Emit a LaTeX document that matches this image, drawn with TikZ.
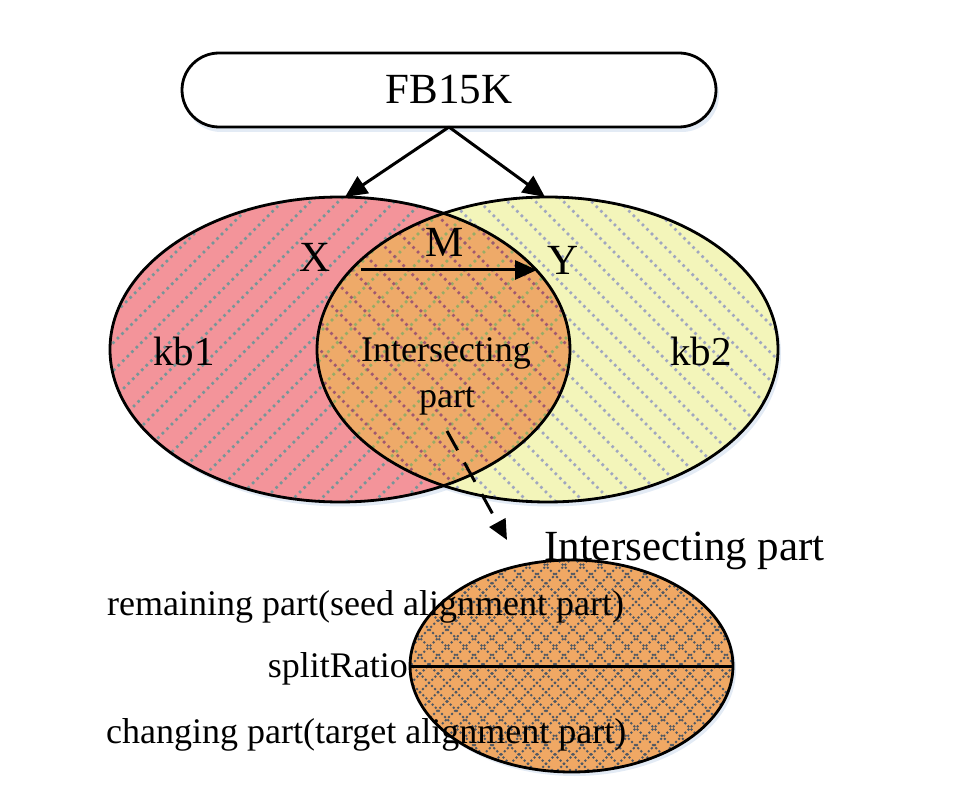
\documentclass[tikz,border=0pt]{standalone}
\usepackage{fontspec}
\setmainfont{Liberation Serif}
\usetikzlibrary{arrows.meta}
\definecolor{pinkfill}{RGB}{243,148,154}
\definecolor{pinkhatch}{RGB}{118,150,152}
\definecolor{yellowfill}{RGB}{243,245,186}
\definecolor{yellowhatch}{RGB}{160,166,192}
\definecolor{orangefill}{RGB}{238,170,105}
\definecolor{greenhatch}{RGB}{150,172,102}
\definecolor{purplehatch}{RGB}{160,88,112}
\definecolor{bottomfill}{RGB}{240,168,100}
\definecolor{bottomhatch}{RGB}{78,88,100}
\definecolor{shadowc}{RGB}{200,215,235}
\tikzset{
  hatchline/.style={line width=2.6pt, dash pattern=on 2.6pt off 3.8pt},
  finehatch/.style={line width=2pt, dash pattern=on 2pt off 2.4pt},
  outline/.style={draw=black, line width=2.8pt},
  bigtxt/.style={inner sep=0pt, font=\fontsize{43}{48}\selectfont},
  midtxt/.style={inner sep=0pt, font=\fontsize{36}{40}\selectfont},
  arr/.style={line width=3pt, -{Triangle[length=22pt,width=20pt]}},
  darr/.style={line width=3pt, dash pattern=on 22pt off 14pt, -{Triangle[length=20pt,width=18pt]}},
}
\begin{document}
\begin{tikzpicture}[x=1pt,y=1pt]
\useasboundingbox (0,0) rectangle (962,-805);
\def\kbone{(340,-349.5) ellipse [x radius=230, y radius=152.5]}
\def\kbtwo{(547.5,-349.5) ellipse [x radius=230.5, y radius=152.5]}
\def\bot{(571.5,-666) ellipse [x radius=161.5, y radius=106]}
% shadows
\fill[shadowc, opacity=0.5, rounded corners=37pt] (184,-58) rectangle (719,-132);
\fill[shadowc, opacity=0.5] (343,-354) ellipse [x radius=230, y radius=152.5];
\fill[shadowc, opacity=0.5] (550.5,-354) ellipse [x radius=230.5, y radius=152.5];
\fill[shadowc, opacity=0.5] (574.5,-670) ellipse [x radius=161.5, y radius=106];
% FB15K box
\node[draw=black, line width=2.8pt, fill=white, rounded corners=37pt, minimum width=534pt, minimum height=74pt, inner sep=0pt] (fb) at (449,-90) {};
\node[bigtxt, anchor=base] (fbt) at (449,-104) {FB15K};
% kb1
\fill[pinkfill] \kbone;
\begin{scope}
  \clip \kbone;
  \foreach \c in {-20,8,...,1380} \draw[hatchline, pinkhatch] (\c-520,-520) -- (\c-180,-180);
\end{scope}
% kb2
\fill[yellowfill] \kbtwo;
\begin{scope}
  \clip \kbtwo;
  \foreach \c in {-450,-422,...,660} \draw[hatchline, yellowhatch] (\c+520,-520) -- (\c+180,-180);
\end{scope}
% intersection
\begin{scope}
  \clip \kbone;
  \clip \kbtwo;
  \fill[orangefill] (300,-190) rectangle (600,-510);
  \foreach \c in {-20,8,...,1380} \draw[hatchline, greenhatch] (\c-520,-520) -- (\c-180,-180);
  \foreach \c in {-450,-422,...,660} \draw[hatchline, purplehatch] (\c+520,-520) -- (\c+180,-180);
\end{scope}
\draw[outline] \kbone;
\draw[outline] \kbtwo;
% bottom ellipse
\fill[bottomfill] \bot;
\begin{scope}
  \clip \bot;
  \foreach \c in {950,968,...,1520} \draw[finehatch, bottomhatch] (\c-780,-780) -- (\c-550,-550);
  \foreach \c in {-380,-362,...,190} \draw[finehatch, bottomhatch] (\c+780,-780) -- (\c+550,-550);
\end{scope}
\draw[outline] \bot;
\coordinate (sl) at (410,-666);
\coordinate (sr) at (733,-666);
\draw[line width=3pt] (sl) -- (sr);
% arrows
\coordinate (fbs) at (449,-127);
\coordinate (t1) at (345,-197);
\coordinate (t2) at (545,-197);
\draw[arr] (fbs) -- (t1);
\draw[arr] (fbs) -- (t2);
\coordinate (m1) at (361,-270);
\coordinate (m2) at (537,-270);
\draw[arr, -{Triangle[length=22pt,width=19pt]}] (m1) -- (m2);
\coordinate (d1) at (447,-431);
\coordinate (d2) at (507,-540);
\draw[darr] (d1) -- (d2);
% labels
\node[bigtxt, anchor=base] (lx) at (315,-272) {X};
\node[bigtxt, anchor=base] (lm) at (445,-257) {M};
\node[bigtxt, anchor=base] (ly) at (563,-275) {Y};
\node[bigtxt, anchor=base, font=\fontsize{41}{46}\selectfont] (k1) at (184,-365) {kb1};
\node[bigtxt, anchor=base, font=\fontsize{41}{46}\selectfont] (k2) at (701,-365) {kb2};
\node[midtxt, anchor=base] (ia) at (446,-362) {Intersecting};
\node[midtxt, anchor=base] (ib) at (447,-407) {part};
\node[bigtxt, anchor=base] (ip) at (684.5,-560) {Intersecting part};
\node[midtxt, anchor=base west] (rp) at (107,-615) {remaining part(seed alignment part)};
\node[midtxt, anchor=base east] (sp) at (408,-677) {splitRatio};
\node[midtxt, anchor=base west] (cp) at (106,-743) {changing part(target alignment part)};
\end{tikzpicture}
\end{document}
